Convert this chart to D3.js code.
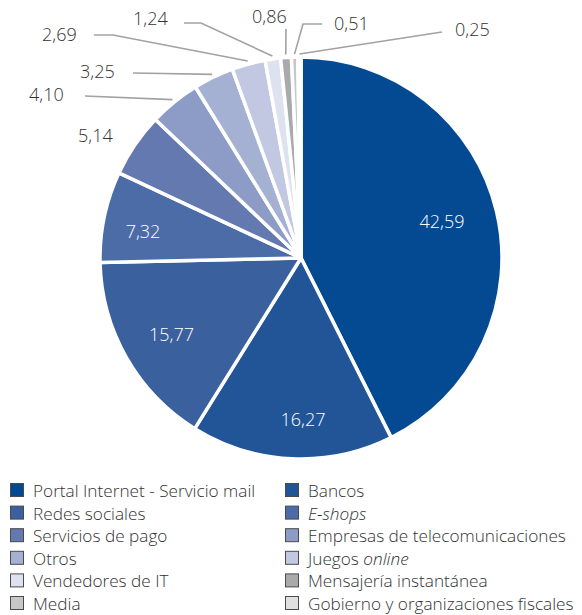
<!DOCTYPE html>
<html>
<head>
<meta charset="utf-8">
<script src="https://cdn.jsdelivr.net/npm/d3@7"></script>
<style>
  html, body { margin: 0; padding: 0; background: #fff; }
  svg { display: block; }
  text { font-family: "Open Sans", "Noto Sans", sans-serif; font-weight: 350; }
</style>
</head>
<body>
<script>
// Categories in drawing order (clockwise from 12 o'clock)
const categories = [
  "Portal Internet - Servicio mail",
  "Bancos",
  "Redes sociales",
  "E-shops",
  "Servicios de pago",
  "Empresas de telecomunicaciones",
  "Otros",
  "Juegos online",
  "Vendedores de IT",
  "Mensajería instantánea",
  "Media",
  "Gobierno y organizaciones fiscales"
];

// Share of each category (%)
const values = [42.59, 16.27, 15.77, 7.32, 5.14, 4.10, 3.25, 2.69, 1.24, 0.86, 0.51, 0.25];

// Slice fills
const colors = [
  "#034a93", "#215597", "#3a609e", "#4c6ca8", "#6379b0", "#8c9cc6",
  "#a4b1d3", "#c2c8e2", "#dde1f0", "#aaaaac", "#c7c7c8", "#e0e0e0"
];

// Words set in italics in the legend
const italicWords = ["E-shops", "online"];

const W = 582, H = 615;
const cx = 301, cy = 258, R = 201;

// Label layout relative to the pie centre.
// inside: centred text; outside: text start + leader line points after the slice edge.
const labelLayout = [
  { inside: true, at: [141, -30] },
  { inside: true, at: [2, 168] },
  { inside: true, at: [-129.5, 83] },
  { inside: true, at: [-158, -20] },
  { at: [-223, -116] },
  { at: [-272, -157], line: [[-216, -162]] },
  { at: [-221, -180], line: [[-168, -185]] },
  { at: [-259, -217], line: [[-188, -223], [-207, -223]] },
  { at: [-168, -233], line: [[-100, -235], [-117, -235]] },
  { at: [-49, -235], line: [[-15, -229]] },
  { at: [33, -228], line: [[2, -234], [21, -234]] },
  { at: [154, -222], line: [[141, -226]] }
];

const fmt = d3.formatLocale({ decimal: ",", thousands: ".", grouping: [3], currency: ["", ""] }).format(".2f");

const svg = d3.select("body").append("svg")
  .attr("width", W).attr("height", H);

const pie = d3.pie().sort(null).value(d => d);
const arcs = pie(values);
const arc = d3.arc().innerRadius(0).outerRadius(R);

const g = svg.append("g").attr("transform", `translate(${cx},${cy})`);

g.selectAll("path.slice")
  .data(arcs)
  .join("path")
  .attr("class", "slice")
  .attr("d", arc)
  .attr("fill", (d, i) => colors[i])
  .attr("stroke", "#fff")
  .attr("stroke-width", 3.5)
  .attr("stroke-linejoin", "round");

// Leader lines from the slice edge at its mid-angle
const edgePoint = (d, r) => {
  const a = (d.startAngle + d.endAngle) / 2;
  return [r * Math.sin(a), -r * Math.cos(a)];
};

arcs.forEach((d, i) => {
  const L = labelLayout[i];
  if (L.line) {
    const pts = [edgePoint(d, R + 3), ...L.line];
    g.append("path")
      .attr("d", d3.line()(pts))
      .attr("fill", "none")
      .attr("stroke", "#a2a2a2")
      .attr("stroke-width", 1.6);
  }
});

// Value labels
arcs.forEach((d, i) => {
  const L = labelLayout[i];
  const t = g.append("text")
    .attr("x", L.at[0])
    .attr("y", L.at[1])
    .attr("font-size", 18)
    .text(fmt(values[i]));
  if (L.inside) {
    t.attr("text-anchor", "middle").attr("fill", "#ffffff");
  } else {
    t.attr("fill", "#333333");
  }
});

// Legend: two columns, filled row by row
const legend = svg.append("g");
const colX = [10, 285];
const rowY0 = 483, rowStep = 22.6, box = 13;

categories.forEach((name, i) => {
  const x = colX[i % 2];
  const y = rowY0 + Math.floor(i / 2) * rowStep;
  legend.append("rect")
    .attr("x", x + 0.5).attr("y", y + 0.5)
    .attr("width", box).attr("height", box)
    .attr("fill", colors[i])
    .attr("stroke", "#4a4a4a")
    .attr("stroke-width", 1);
  const t = legend.append("text")
    .attr("x", x + 23)
    .attr("y", y + 14)
    .attr("font-size", 17.2)
    .attr("fill", "#333333");
  name.split(" ").forEach((w, k) => {
    t.append("tspan")
      .attr("font-style", italicWords.includes(w) ? "italic" : "normal")
      .text((k ? " " : "") + w);
  });
});
</script>
</body>
</html>
